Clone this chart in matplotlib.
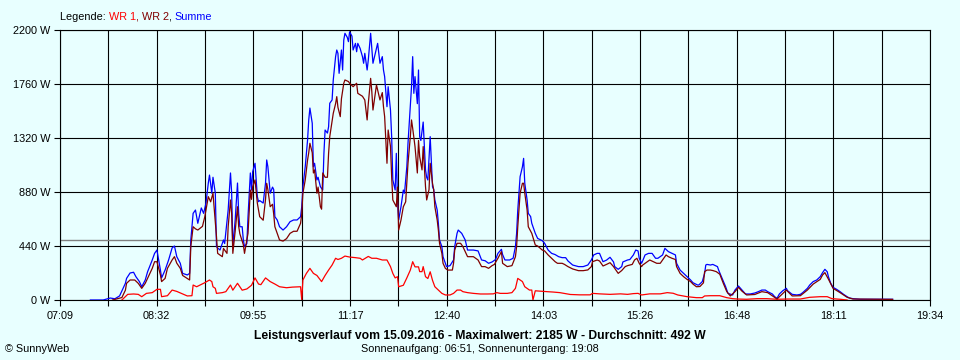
import matplotlib
matplotlib.use('Agg')
import matplotlib.pyplot as plt
import numpy as np

plt.rcParams['font.family'] = ['Liberation Sans', 'DejaVu Sans']

# ---- data (time in minutes after midnight, power in W) ----
summe_t = [455,466,472,476,480,483,485,486,489,492,494,497,499,502,504,508,510,512,515,516,519,522,525,527,529,532,534,538,540,541,543,545,547,550,552,554,556,557,559,560,562,563,564,566,569,570,573,575,576,577,579,581,582,583,585,586,587,589,590,592,593,594,596,598,599,600,603,605,606,607,609,611,612,613,615,617,620,623,626,629,632,635,636,637,639,641,642,643,645,646,647,649,650,652,654,655,656,658,659,660,662,663,665,666,667,668,670,671,672,673,675,676,677,679,680,682,683,684,686,688,689,690,692,693,695,696,697,699,701,702,703,705,706,707,709,710,712,713,714,716,717,718,719,721,723,724,726,727,729,730,731,732,733,735,736,737,738,740,742,743,744,746,748,749,750,752,753,754,756,757,759,760,763,766,767,769,770,773,776,778,783,787,790,793,796,799,802,804,807,808,810,814,817,819,820,821,823,825,826,827,829,830,832,833,836,838,842,844,847,850,853,856,859,862,864,868,873,877,881,884,886,889,891,894,897,900,903,904,907,910,911,915,917,920,922,924,925,927,928,930,933,936,939,941,945,947,950,953,956,957,960,963,966,969,971,975,976,979,981,982,983,986,988,992,993,996,999,1001,1005,1007,1010,1013,1016,1020,1024,1027,1030,1033,1035,1039,1041,1043,1045,1048,1051,1052,1056,1060,1063,1065,1069,1071,1074,1077,1080,1082,1084,1086,1087,1089,1091,1094,1097,1100,1103,1105,1108,1114,1127,1142]
summe_w = [0,0,16,10,33,95,136,176,220,226,190,150,108,163,230,326,380,407,244,180,244,326,424,440,353,299,217,204,217,489,706,733,625,750,706,790,953,1018,870,1000,870,435,424,407,489,460,733,1035,870,435,652,953,706,597,597,489,435,460,679,1035,896,1046,1114,842,801,810,790,953,1141,1086,870,920,900,679,652,597,570,597,638,652,652,679,760,923,1086,1304,1467,1564,1440,1086,1114,978,1000,923,896,1195,1385,1360,1412,1603,1630,1793,1983,2037,2010,1847,2037,1874,2118,2173,2140,2105,2185,2150,2037,2091,2023,2091,2050,1983,1929,2010,1874,1956,2173,2050,1929,2010,2091,2010,1929,1983,1874,1820,1575,1738,1548,1331,978,896,1195,815,652,760,896,870,1086,1277,1575,1738,1983,1684,1820,1600,1874,1331,1300,1450,1059,1000,978,1331,923,900,815,733,625,489,435,353,299,272,280,326,435,543,570,543,489,407,407,400,326,320,299,310,330,380,413,370,326,326,340,435,543,733,1005,1086,1154,951,815,706,680,625,543,502,483,462,407,380,370,353,345,345,318,285,272,272,285,326,367,380,380,312,325,348,310,272,250,272,310,326,330,367,407,400,340,299,320,367,380,380,340,340,367,421,394,380,367,299,244,217,190,163,141,122,122,150,217,285,290,285,290,272,244,176,108,54,41,81,114,81,49,49,57,68,81,81,68,49,27,14,49,76,95,76,46,41,46,60,95,122,150,163,190,223,250,230,190,136,103,87,68,46,27,16,11,6,6,6]

wr1_t = [482,485,487,492,496,499,503,508,512,515,516,521,525,529,534,538,542,543,546,549,553,556,557,559,560,562,563,568,571,575,577,581,585,589,593,596,599,601,605,609,613,617,623,628,635,636,637,639,640,643,646,649,652,653,656,659,662,665,667,670,673,677,682,686,688,693,696,700,705,709,712,714,716,718,719,723,726,729,731,733,736,737,739,740,742,744,746,748,750,753,756,759,763,766,769,772,774,778,783,789,795,800,803,806,812,816,819,820,821,825,827,831,833,834,836,840,846,851,857,866,874,883,885,891,900,909,915,920,924,927,934,943,949,954,958,966,974,979,981,986,994,1000,1005,1009,1017,1026,1034,1043,1052,1063,1071,1080,1086,1090,1097,1103]
wr1_w = [0,27,46,49,46,27,54,60,87,87,27,35,81,70,49,33,35,122,108,122,141,157,163,150,108,95,54,60,68,122,80,136,80,90,120,180,130,125,180,150,130,108,100,105,108,0,163,200,217,258,217,200,163,150,200,244,285,340,330,340,358,350,345,340,326,355,340,340,326,326,272,217,180,190,108,120,180,244,312,270,270,231,231,272,190,175,230,160,108,81,54,41,41,54,81,81,68,60,54,49,49,50,60,54,54,60,95,136,176,150,108,81,81,0,75,72,68,65,60,45,42,42,54,50,46,50,46,52,54,41,50,50,60,55,41,27,19,19,33,35,35,19,11,8,6,11,11,6,8,8,22,27,27,11,6,0]

wr2_t = [474,482,485,486,489,493,496,499,502,504,508,510,512,515,516,519,521,525,527,529,532,534,538,540,541,543,545,547,551,553,556,558,560,563,564,568,569,572,573,575,576,577,579,581,582,583,586,587,590,592,593,594,596,598,600,603,605,606,607,609,611,612,613,615,617,620,623,626,629,632,635,636,637,639,641,642,643,645,646,647,649,650,652,653,654,656,658,659,660,663,665,666,667,669,670,672,673,676,677,680,683,684,688,690,692,693,695,696,697,700,703,705,706,707,709,710,712,713,714,717,718,719,721,723,725,727,729,730,731,733,735,736,737,739,740,742,743,745,746,748,749,750,752,753,754,756,757,759,761,765,766,767,769,772,774,778,783,787,790,793,796,799,801,804,807,808,812,816,819,820,821,823,825,826,827,829,830,833,836,838,842,844,847,850,853,855,859,861,864,868,873,877,881,884,885,889,891,894,897,900,903,906,907,910,913,915,919,921,923,925,927,928,932,934,937,940,943,945,948,950,953,956,957,960,963,966,969,971,974,977,980,981,983,986,988,991,994,997,1000,1003,1007,1010,1013,1017,1024,1030,1035,1043,1051,1056,1063,1069,1074,1080,1082,1084,1087,1091,1097,1103,1108,1142]
wr2_w = [0,20,80,136,163,163,136,95,136,176,258,312,312,204,150,176,258,326,353,300,258,200,176,163,435,597,580,570,600,679,842,800,870,516,380,353,420,380,597,815,700,380,560,760,600,540,450,380,543,896,820,923,978,788,679,650,820,951,900,760,780,700,597,543,489,480,500,543,560,560,625,700,870,978,1141,1200,1277,1200,1035,1060,870,920,760,740,1035,1000,1000,1195,1331,1521,1600,1657,1570,1494,1640,1766,1793,1780,1766,1738,1766,1684,1660,1630,1467,1600,1806,1700,1548,1752,1630,1690,1575,1494,1114,1385,1250,1005,815,760,920,570,652,760,800,1114,1331,1467,1400,1250,1035,1300,1168,1060,1250,923,815,900,1114,950,900,760,652,570,462,380,299,258,244,244,299,407,462,462,435,353,353,326,272,272,258,280,290,340,394,299,272,280,353,435,597,870,951,951,870,733,597,543,448,440,407,400,367,340,312,299,299,290,272,253,239,239,245,272,312,326,318,277,290,304,272,231,217,240,272,280,290,326,340,299,272,285,312,326,312,299,299,326,367,353,340,330,272,217,190,168,150,130,108,110,140,231,244,244,240,231,210,136,68,33,68,103,72,41,45,68,60,8,81,33,35,81,130,168,204,223,170,95,60,22,8,5]

average_w = 492
ytick_vals = [0, 440, 880, 1320, 1760, 2200]
xtick_labels = ["07:09", "08:32", "09:55", "11:17", "12:40", "14:03", "15:26", "16:48", "18:11", "19:34"]
legend_parts = [("Legende: ", "black"), ("WR 1", "#FF0000"), (", ", "#800000"), ("WR 2", "#800000"), (", ", "black"), ("Summe", "#0000FF")]
title = "Leistungsverlauf vom 15.09.2016 - Maximalwert: 2185 W - Durchschnitt: 492 W"
subtitle = "Sonnenaufgang: 06:51, Sonnenuntergang: 19:08"
credit = "\u00a9 SunnyWeb"

BG = '#E8FFFF'
fig = plt.figure(figsize=(9.6, 3.6), dpi=100, facecolor=BG)
ax = fig.add_axes([60/960, 60/360, 870/960, 270/360])
ax.set_facecolor(BG)
t0, t1 = 429, 1174
ax.set_xlim(t0, t1)
ax.set_ylim(0, 2200)

xt = np.linspace(t0, t1, 2*len(xtick_labels) - 1)
ax.set_xticks(xt)
lbls = []
for i in range(len(xt)):
    lbls.append(xtick_labels[i//2] if i % 2 == 0 else "")
ax.set_xticklabels(lbls)
ax.set_yticks(ytick_vals)
ax.set_yticklabels([f"{v} W" for v in ytick_vals])
ax.tick_params(direction='out', length=4, width=0.8, colors='black', labelsize=7.8, pad=3)
ax.tick_params(axis='x', pad=4)
ax.grid(True, color='black', lw=0.8)
ax.set_axisbelow(True)
for s in ax.spines.values():
    s.set_color('black')
    s.set_linewidth(0.8)

ax.axhline(average_w, color='#808080', lw=1.0, zorder=2)
ax.plot(wr1_t, wr1_w, color='#FF0000', lw=0.9, zorder=3)
ax.plot(wr2_t, wr2_w, color='#800000', lw=0.9, zorder=4)
ax.plot(summe_t, summe_w, color='#0000FF', lw=0.9, zorder=3.5)

# legend as sequential coloured text
fig.canvas.draw()
r = fig.canvas.get_renderer()
x = 60/960
for txt, col in legend_parts:
    t = fig.text(x, 1 - 17/360, txt, color=col, fontsize=7.8, va='center', ha='left')
    bb = t.get_window_extent(renderer=r)
    x += bb.width / 960

fig.text(0.5, 1 - 336.5/360, title, fontsize=8.7, fontweight='bold', ha='center', va='center')
fig.text(0.5, 1 - 349.5/360, subtitle, fontsize=7.8, ha='center', va='center')
fig.text(5/960, 1 - 349.5/360, credit, fontsize=7.8, ha='left', va='center')

fig.savefig('out.png', dpi=100, facecolor=BG)
